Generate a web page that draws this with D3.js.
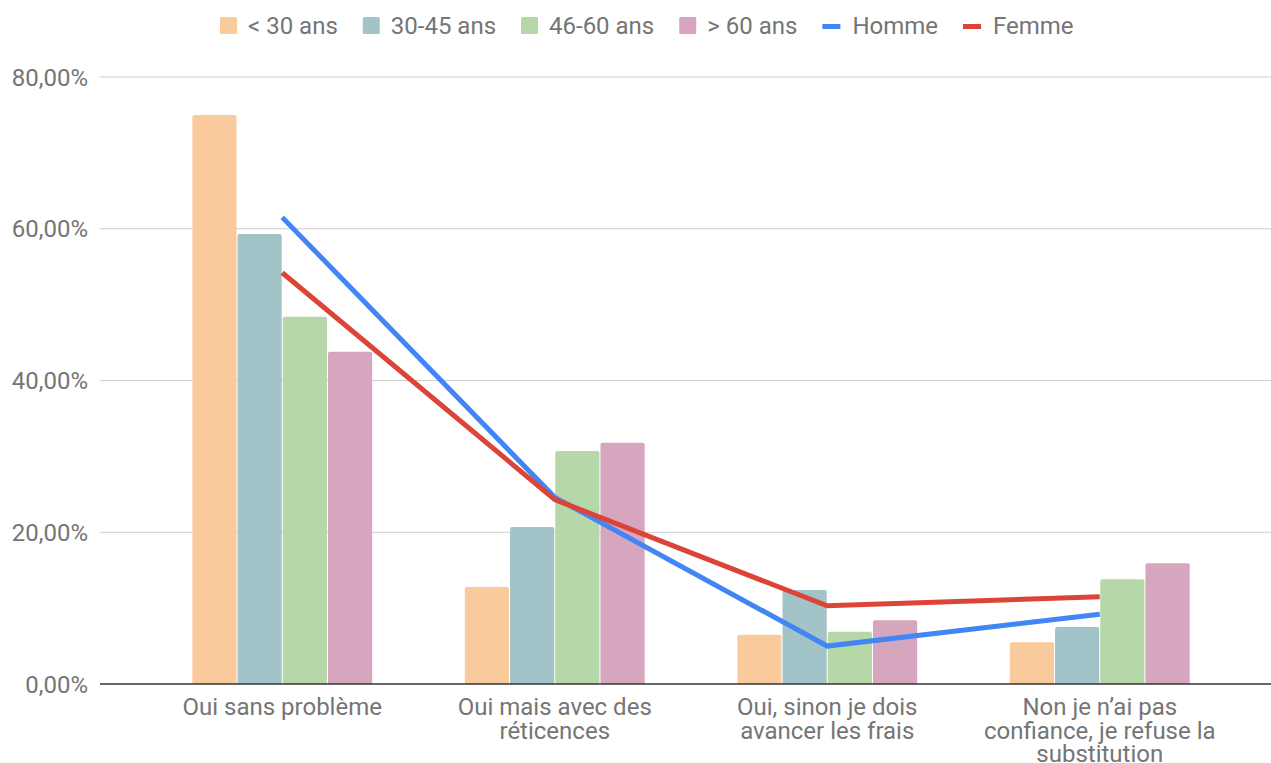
<!DOCTYPE html>
<html>
<head>
<meta charset="utf-8">
<script src="https://cdn.jsdelivr.net/npm/d3@7"></script>
<style>
  body { margin: 0; background: #fff; }
  text { font-family: Roboto, sans-serif; fill: #757575; }
</style>
</head>
<body>
<script>
const width = 1271
const height = 763

const categories = [
    'Oui sans problème',
    'Oui mais avec des réticences',
    'Oui, sinon je dois avancer les frais',
    'Non je n’ai pas confiance, je refuse la substitution'
]
// lignes des étiquettes de l'axe x
const catLines = [
    ['Oui sans problème'],
    ['Oui mais avec des', 'réticences'],
    ['Oui, sinon je dois', 'avancer les frais'],
    ['Non je n’ai pas', 'confiance, je refuse la', 'substitution']
]
const ageGroups = ['< 30 ans', '30-45 ans', '46-60 ans', '> 60 ans']
const ageValues = [
    [75.0, 12.8, 6.5, 5.5],
    [59.3, 20.7, 12.4, 7.5],
    [48.4, 30.7, 6.9, 13.8],
    [43.8, 31.8, 8.4, 15.9]
]
const homme = [61.5, 24.6, 5.0, 9.2]
const femme = [54.2, 24.3, 10.3, 11.5]
const yTicks = [0, 20, 40, 60, 80]

const barColors = ['#f9cb9c', '#a2c4c9', '#b6d7a8', '#d5a6bd']
const lineColors = { Homme: '#4285f4', Femme: '#db4437' }

const svg = d3.select('body').append('svg')
    .attr('width', width)
    .attr('height', height)

const y = d3.scaleLinear().domain([0, 80]).range([684, 77])

const x0 = d3.scaleBand()
    .domain(categories)
    .range([146, 1236])
    .paddingInner(0.34)
    .paddingOuter(0.17)

const x1 = d3.scaleBand()
    .domain(ageGroups)
    .range([0, x0.bandwidth()])
    .paddingInner(0.022)

// grille
svg.append('g')
    .selectAll('line')
    .data(yTicks.filter(d => d > 0))
    .enter()
    .append('line')
    .attr('x1', 100)
    .attr('x2', width)
    .attr('y1', d => y(d))
    .attr('y2', d => y(d))
    .attr('stroke', '#cccccc')
    .attr('stroke-width', 1)

// étiquettes de l'axe y
const fmt = d => d3.format('.2f')(d).replace('.', ',') + '%'
svg.append('g')
    .selectAll('text')
    .data(yTicks)
    .enter()
    .append('text')
    .attr('x', 88)
    .attr('y', d => y(d))
    .attr('dy', '0.36em')
    .attr('text-anchor', 'end')
    .style('font-size', '24px')
    .text(fmt)

// barres
const groups = svg.append('g')
    .selectAll('g')
    .data(categories)
    .enter()
    .append('g')
    .attr('transform', d => `translate(${x0(d)},0)`)

groups.selectAll('path')
    .data((c, ci) => ageGroups.map((a, ai) => ({ age: a, ai, value: ageValues[ai][ci] })))
    .enter()
    .append('path')
    .attr('fill', d => barColors[d.ai])
    .attr('d', d => {
        const bx = x1(d.age), bw = x1.bandwidth()
        const top = y(d.value), bottom = y(0), r = 2
        return `M${bx},${bottom}V${top + r}Q${bx},${top} ${bx + r},${top}H${bx + bw - r}Q${bx + bw},${top} ${bx + bw},${top + r}V${bottom}Z`
    })

// axe de base
svg.append('line')
    .attr('x1', 100)
    .attr('x2', width)
    .attr('y1', y(0))
    .attr('y2', y(0))
    .attr('stroke', '#333333')
    .attr('stroke-width', 1.5)

// lignes Homme / Femme
const line = d3.line()
    .x((d, i) => x0(categories[i]) + x0.bandwidth() / 2)
    .y(d => y(d))

svg.append('path')
    .datum(homme)
    .attr('d', line)
    .attr('fill', 'none')
    .attr('stroke', lineColors.Homme)
    .attr('stroke-width', 5)

svg.append('path')
    .datum(femme)
    .attr('d', line)
    .attr('fill', 'none')
    .attr('stroke', lineColors.Femme)
    .attr('stroke-width', 5)

// étiquettes de l'axe x
const xl = svg.append('g')
    .selectAll('text')
    .data(categories)
    .enter()
    .append('text')
    .attr('text-anchor', 'middle')
    .style('font-size', '24px')

xl.selectAll('tspan')
    .data((d, i) => catLines[i].map(t => ({ t, c: d })))
    .enter()
    .append('tspan')
    .attr('x', d => x0(d.c) + x0.bandwidth() / 2)
    .attr('y', (d, i) => 715 + i * 23.5)
    .text(d => d.t)

// légende
const legendItems = ageGroups.map((a, i) => ({ name: a, color: barColors[i], type: 'rect' }))
    .concat([
        { name: 'Homme', color: lineColors.Homme, type: 'line' },
        { name: 'Femme', color: lineColors.Femme, type: 'line' }
    ])

const legend = svg.append('g')
let lx = 220
legendItems.forEach(it => {
    const g = legend.append('g').attr('transform', `translate(${lx},0)`)
    if (it.type === 'rect') {
        g.append('rect')
            .attr('y', 17)
            .attr('width', 17)
            .attr('height', 17)
            .attr('rx', 1.5)
            .attr('fill', it.color)
    } else {
        g.append('rect')
            .attr('y', 24)
            .attr('width', 18)
            .attr('height', 5)
            .attr('fill', it.color)
    }
    const t = g.append('text')
        .attr('x', it.type === 'rect' ? 28 : 30)
        .attr('y', 25)
        .attr('dy', '0.36em')
        .style('font-size', '24px')
        .text(it.name)
    lx += (it.type === 'rect' ? 28 : 30) + t.node().getComputedTextLength() + 25
})
</script>
</body>
</html>
